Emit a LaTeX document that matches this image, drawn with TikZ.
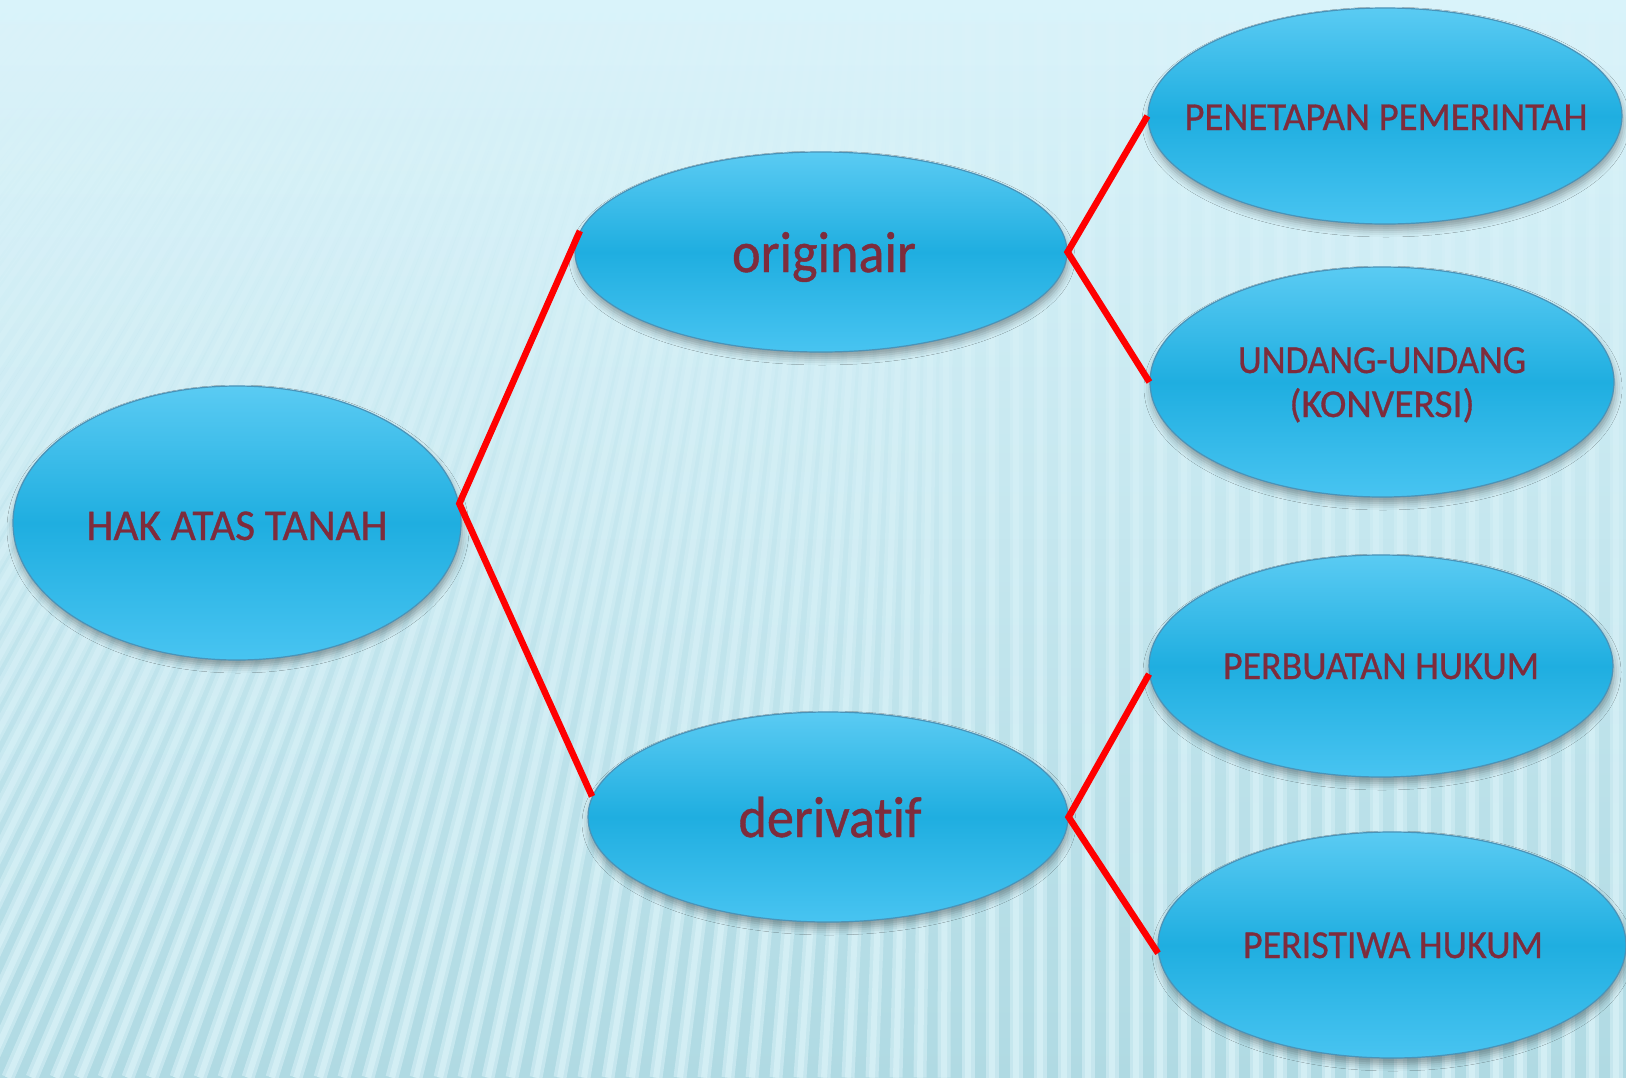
\documentclass[tikz,border=0pt]{standalone}
\usepackage{fontspec}
\setmainfont[Ligatures=NoCommon, FakeBold=0.8]{Carlito}
\usetikzlibrary{shapes.geometric,shadows.blur,fadings}

\definecolor{bgtop}{HTML}{D9F3FA}
\definecolor{bgbot}{HTML}{B0DAE3}
\definecolor{ovaltop}{HTML}{5ACBF3}
\definecolor{ovalmid}{HTML}{1FAEE0}
\definecolor{ovalbot}{HTML}{48C4F1}
\definecolor{ovalline}{HTML}{4A93B8}
\definecolor{labelred}{HTML}{7E2C3C}
\definecolor{linkred}{HTML}{FF0000}
\definecolor{stripelight}{HTML}{E2F7FC}

\tikzfading[name=stripefade, top color=transparent!80, bottom color=transparent!0]

% scale a text horizontally so that it is #1 pt wide
\newsavebox\fitbox
\newlength\fitlen
\newcommand\fitw[2]{\sbox\fitbox{#2}\setlength\fitlen{\wd\fitbox}%
  \pgfmathsetmacro\fitratio{#1/\fitlen}\scalebox{\fitratio}[1]{\usebox\fitbox}}

\begin{document}
\begin{tikzpicture}[x=1pt,y=-1pt,
  oval/.style={ellipse, inner sep=0pt, draw=ovalline, line width=1.2pt,
    top color=ovaltop, bottom color=ovalbot, middle color=ovalmid,
    blur shadow={shadow xshift=1pt, shadow yshift=-6pt, shadow blur radius=7pt, shadow opacity=35}},
  lbl/.style={anchor=base, inner sep=0pt, text=labelred},
  caps/.style={lbl, font=\fontsize{39.6}{44}\selectfont},
  big/.style={lbl, font=\fontsize{58}{64}\selectfont},
  stripewide/.style={stripelight, line width=13pt, opacity=0.45, path fading=stripefade},
  stripecore/.style={stripelight, line width=6pt, opacity=0.5, path fading=stripefade},
  link/.style={draw=linkred, line width=6.5pt, miter limit=10}]

\useasboundingbox (0,0) rectangle (1626,1077);

% background with fanned stripes
\fill[top color=bgtop, bottom color=bgbot] (0,0) rectangle (1626,1077);
\begin{scope}
  \clip (0,0) rectangle (1626,1077);
  \foreach \i in {0,...,110} {
    \pgfmathsetmacro\xb{-1000+\i*24}
    \pgfmathsetmacro\xt{\xb+max(0,0.5*(950-\xb))}
    \draw[stripewide] (\xb,1077) -- (\xt,0);
    \draw[stripecore] (\xb,1077) -- (\xt,0);
  }
\end{scope}

% ovals
\node[oval, minimum width=448pt, minimum height=274pt] (hak)   at (237,523) {};
\node[oval, minimum width=492pt, minimum height=200pt] (orig)  at (821,252) {};
\node[oval, minimum width=480pt, minimum height=210pt] (deriv) at (828,817) {};
\node[oval, minimum width=474pt, minimum height=216pt] (pen)   at (1385,116) {};
\node[oval, minimum width=464pt, minimum height=230pt] (und)   at (1382,382) {};
\node[oval, minimum width=464pt, minimum height=222pt] (perb)  at (1381,666) {};
\node[oval, minimum width=468pt, minimum height=226pt] (peri)  at (1392,945) {};

% labels
\node[lbl, font=\fontsize{44}{50}\selectfont] (hakT) at (237,540) {\fitw{301}{HAK ATAS TANAH}};
\node[big] (origT)  at (824,272) {\fitw{184}{originair}};
\node[big] (derivT) at (830,837) {\fitw{183}{derivatif}};
\node[caps] (penT)  at (1386,130) {\fitw{403}{PENETAPAN PEMERINTAH}};
\node[caps] (undT)  at (1382,373) {\fitw{288}{UNDANG-UNDANG}};
\node[caps] (undT2) at (1382,417) {\fitw{185}{(KONVERSI)}};
\node[caps] (perbT) at (1381,679) {\fitw{316}{PERBUATAN HUKUM}};
\node[caps] (periT) at (1393,958) {\fitw{300}{PERISTIWA HUKUM}};

% connectors
\draw[link] (orig.175) -- (hak.5) -- (deriv.175);
\draw[link] (pen.west) -- (orig.east) -- (und.west);
\draw[link] (perb.182) -- (deriv.east) -- (peri.182.5);

\end{tikzpicture}
\end{document}
